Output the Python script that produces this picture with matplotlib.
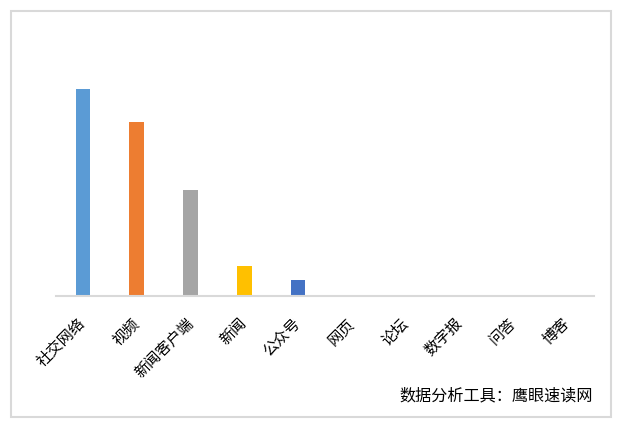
import matplotlib
matplotlib.use("Agg")
import matplotlib.pyplot as plt
from matplotlib.patches import Rectangle
from matplotlib.transforms import ScaledTranslation

plt.rcParams['font.family'] = ['Noto Sans CJK SC', 'DejaVu Sans']

categories = ["社交网络", "视频", "新闻客户端", "新闻", "公众号", "网页", "论坛", "数字报", "问答", "博客"]
shares = [38.8, 32.6, 19.9, 5.6, 3.0, 0, 0, 0, 0, 0]
colors = ["#5B9BD5", "#ED7D31", "#A5A5A5", "#FFC000", "#4472C4",
          "#70AD47", "#255E91", "#9E480E", "#636363", "#997300"]
credit = "数据分析工具：鹰眼速读网"

W, H = 621, 426
fig = plt.figure(figsize=(W / 100, H / 100), dpi=100)

# outer chart frame
fig.patches.append(Rectangle((11 / W, 1 - 417 / H), (611 - 11) / W, (417 - 11) / H,
                             transform=fig.transFigure, fill=False,
                             edgecolor="#D9D9D9", linewidth=1.5))

left, right, bottom, top = 56, 594, 296, 40
ax = fig.add_axes([left / W, 1 - bottom / H, (right - left) / W, (bottom - top) / H])

x = list(range(len(categories)))
ax.bar(x, shares, width=0.27, color=colors, zorder=2)
ax.set_xlim(-0.5, len(categories) - 0.5)
ax.set_ylim(0, 48)

for s in ("left", "right", "top"):
    ax.spines[s].set_visible(False)
ax.spines["bottom"].set_color("#D9D9D9")
ax.spines["bottom"].set_linewidth(1.5)
ax.set_yticks([])
ax.set_xticks([])

# rotated category labels, right end just under each category centre
offset = ScaledTranslation(0 / 100, -25 / 100, fig.dpi_scale_trans)
trans = ax.get_xaxis_transform() + offset
for xi, name in zip(x, categories):
    ax.text(xi, 0, name, transform=trans, rotation=45, rotation_mode="anchor",
            ha="right", va="center", fontsize=11, color="#000000")

fig.text(593 / W, 1 - 396 / H, credit, ha="right", va="center", fontsize=11.6, color="#000000")

fig.savefig("out.png", dpi=100, facecolor="white")
